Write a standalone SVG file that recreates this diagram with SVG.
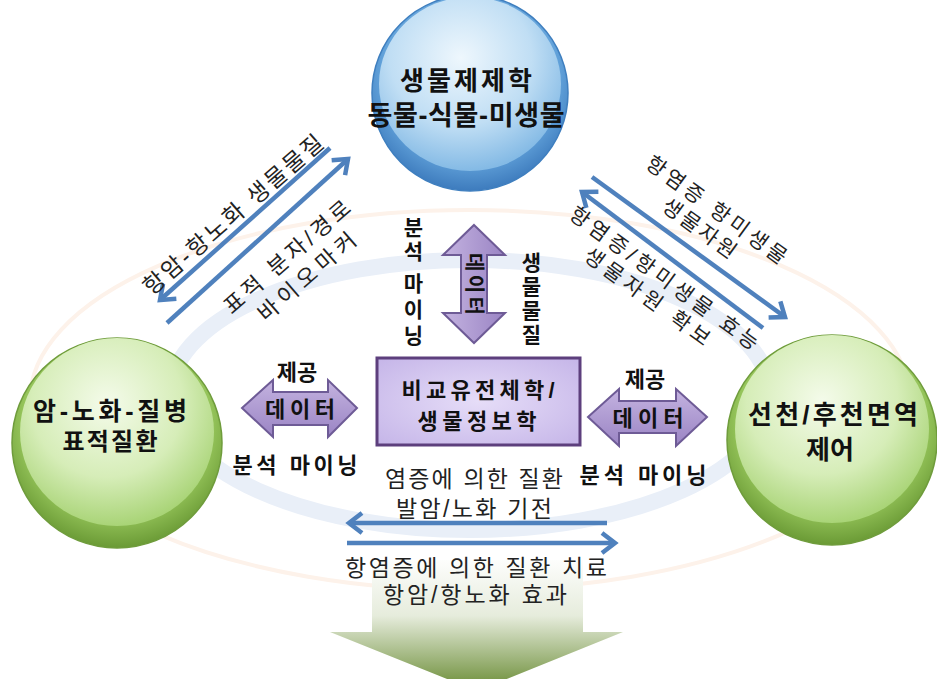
<svg xmlns="http://www.w3.org/2000/svg" width="937" height="679" viewBox="0 0 937 679">
<style>
.b{font-family:"Liberation Sans","Noto Sans CJK KR",sans-serif;font-weight:bold;fill:#111;text-anchor:middle}
.r{font-family:"Liberation Sans","Noto Sans CJK KR",sans-serif;font-weight:normal;fill:#222;text-anchor:middle}
.v{writing-mode:vertical-rl}
.blue{stroke:#4f81bd;stroke-width:4.5;fill:none}
.parr{fill:url(#purp);stroke:#6e5b96;stroke-width:2}
</style>
<defs>
<radialGradient id="blueOuter" cx="50%" cy="40%" r="60%">
<stop offset="0" stop-color="#a6cff0"/><stop offset="0.75" stop-color="#62a2da"/><stop offset="1" stop-color="#3d7bbd"/>
</radialGradient>
<radialGradient id="blueInner" cx="45%" cy="35%" r="65%">
<stop offset="0" stop-color="#eef7fd"/><stop offset="0.6" stop-color="#c0def4"/><stop offset="1" stop-color="#84bae5"/>
</radialGradient>
<radialGradient id="greenOuter" cx="50%" cy="40%" r="60%">
<stop offset="0" stop-color="#c2e28e"/><stop offset="0.75" stop-color="#95c45a"/><stop offset="1" stop-color="#6a9a35"/>
</radialGradient>
<radialGradient id="greenInner" cx="45%" cy="35%" r="65%">
<stop offset="0" stop-color="#f4fbea"/><stop offset="0.6" stop-color="#d6edb8"/><stop offset="1" stop-color="#a9d477"/>
</radialGradient>
<linearGradient id="purp" x1="0" y1="0" x2="0" y2="1">
<stop offset="0" stop-color="#c4b3e0"/><stop offset="1" stop-color="#9a84c4"/>
</linearGradient>
<linearGradient id="purpV" x1="0" y1="0" x2="1" y2="0">
<stop offset="0" stop-color="#c4b3e0"/><stop offset="1" stop-color="#9a84c4"/>
</linearGradient>
<radialGradient id="boxFill" cx="50%" cy="50%" r="70%">
<stop offset="0" stop-color="#e6ddf8"/><stop offset="1" stop-color="#c5b5e8"/>
</radialGradient>
<linearGradient id="bigArrow" gradientUnits="userSpaceOnUse" x1="0" y1="555" x2="0" y2="690">
<stop offset="0" stop-color="#ffffff"/><stop offset="0.45" stop-color="#e6ecdc"/><stop offset="1" stop-color="#6a8c35"/>
</linearGradient>
<marker id="head" markerUnits="userSpaceOnUse" markerWidth="30" markerHeight="30" refX="0" refY="0" orient="auto" overflow="visible" viewBox="-20 -15 30 30">
<path d="M-13,-10 L0,0 L-13,10" fill="none" stroke="#4f81bd" stroke-width="4.5" stroke-linejoin="miter"/>
</marker>
</defs>
<rect width="937" height="679" fill="#ffffff"/>
<g id="rings">
<ellipse cx="470" cy="400" rx="440" ry="190" fill="none" stroke="#fdf2ea" stroke-width="4"/>
<ellipse cx="470" cy="395" rx="300" ry="135" fill="none" stroke="#e9eff8" stroke-width="16"/>
</g>
<g id="result-arrow">
<polygon points="372,560 583,560 583,632 623,632 477,691 330,632 372,632" fill="url(#bigArrow)"/>
</g>
<g id="connectors">
<line class="blue" x1="330" y1="148" x2="160" y2="300" marker-end="url(#head)"/>
<line class="blue" x1="167" y1="323" x2="348" y2="159" marker-end="url(#head)"/>
<line class="blue" x1="592" y1="177" x2="785" y2="317" marker-end="url(#head)"/>
<line class="blue" x1="763" y1="328" x2="582" y2="192" marker-end="url(#head)"/>
<line class="blue" x1="607" y1="523" x2="349" y2="523" marker-end="url(#head)"/>
<line class="blue" x1="347" y1="543" x2="615" y2="543" marker-end="url(#head)"/>
<polygon class="parr" points="242,408 273,380 273,392 328,392 328,380 357,408 328,437 328,425 273,425 273,437"/>
<polygon class="parr" points="588,417 619,389 619,401 676,401 676,389 707,417 676,446 676,433 619,433 619,446"/>
<polygon points="474,225 505,255 487,255 487,313 505,313 474,343 443,313 461,313 461,255 443,255" fill="url(#purpV)" stroke="#6e5b96" stroke-width="2"/>
</g>
<g id="labels-upper-left" transform="rotate(-41)">
<text class="r" x="35" y="323" font-size="23" textLength="230">항암-항노화 생물물질</text>
<text class="r" font-size="22"><tspan x="48" y="390" textLength="160">표적 분자/경로</tspan><tspan x="50" y="418" textLength="122">바이오마커</tspan></text>
</g>
<g id="labels-upper-right" transform="rotate(36)">
<text class="r" font-size="21"><tspan x="703" y="-244" textLength="168">항염증 항미생물</tspan><tspan x="700" y="-219" textLength="86">생물자원</tspan></text>
<text class="r" font-size="21"><tspan x="701" y="-158" textLength="228">항염증/항미생물 효능</tspan><tspan x="698" y="-133" textLength="150">생물자원 확보</tspan></text>
</g>
<g id="labels-center">
<text class="b v" font-size="21" letter-spacing="3" x="412" y="241">분석</text>
<text class="b v" font-size="21" letter-spacing="5" x="412" y="312">마이닝</text>
<text class="b v" font-size="21" letter-spacing="3" x="530" y="300">생물물질</text>
<text class="b" font-size="20" transform="translate(474,284) rotate(90)" x="0" y="7" textLength="62">데이터</text>
<text class="b" font-size="22" x="297" y="380">제공</text>
<text class="b" font-size="22" x="300" y="417" textLength="70">데이터</text>
<text class="b" font-size="22" x="295" y="473" textLength="125">분석 마이닝</text>
<text class="b" font-size="22" x="645" y="387">제공</text>
<text class="b" font-size="22" x="648" y="426" textLength="71">데이터</text>
<text class="b" font-size="22" x="643" y="483" textLength="127">분석 마이닝</text>
<text class="r" font-size="23"><tspan x="474" y="487" textLength="178">염증에 의한 질환</tspan><tspan x="474" y="517" textLength="156">발암/노화 기전</tspan></text>
<text class="r" font-size="23"><tspan x="476" y="576" textLength="262">항염증에 의한 질환 치료</tspan><tspan x="475" y="603" textLength="184">항암/항노화 효과</tspan></text>
</g>
<g id="node-biopharma">
<circle cx="470" cy="93" r="98" fill="url(#blueOuter)" stroke="#3f7fbf" stroke-width="1.5"/>
<ellipse cx="470" cy="84" rx="91" ry="87" fill="url(#blueInner)"/>
<text class="b"><tspan font-size="26" x="466" y="90" textLength="132">생물제제학</tspan><tspan font-size="27" x="466" y="125" textLength="197">동물-식물-미생물</tspan></text>
</g>
<g id="node-disease">
<circle cx="117" cy="443" r="105" fill="url(#greenOuter)" stroke="#6f9c3c" stroke-width="1.5"/>
<ellipse cx="117" cy="432" rx="97" ry="94" fill="url(#greenInner)"/>
<text class="b"><tspan font-size="25" x="110" y="420" textLength="154">암-노화-질병</tspan><tspan font-size="24" x="110" y="450" textLength="95">표적질환</tspan></text>
</g>
<g id="node-immune">
<circle cx="832" cy="440" r="105" fill="url(#greenOuter)" stroke="#6f9c3c" stroke-width="1.5"/>
<ellipse cx="832" cy="429" rx="97" ry="94" fill="url(#greenInner)"/>
<text class="b" font-size="26"><tspan x="833" y="424" textLength="170">선천/후천면역</tspan><tspan x="830" y="459">제어</tspan></text>
</g>
<g id="node-bioinfo">
<rect x="377" y="358" width="203" height="87" fill="url(#boxFill)" stroke="#5d3f7d" stroke-width="3"/>
<text class="b" font-size="22"><tspan x="478" y="398" textLength="153">비교유전체학/</tspan><tspan x="477" y="429" textLength="119">생물정보학</tspan></text>
</g>
</svg>
